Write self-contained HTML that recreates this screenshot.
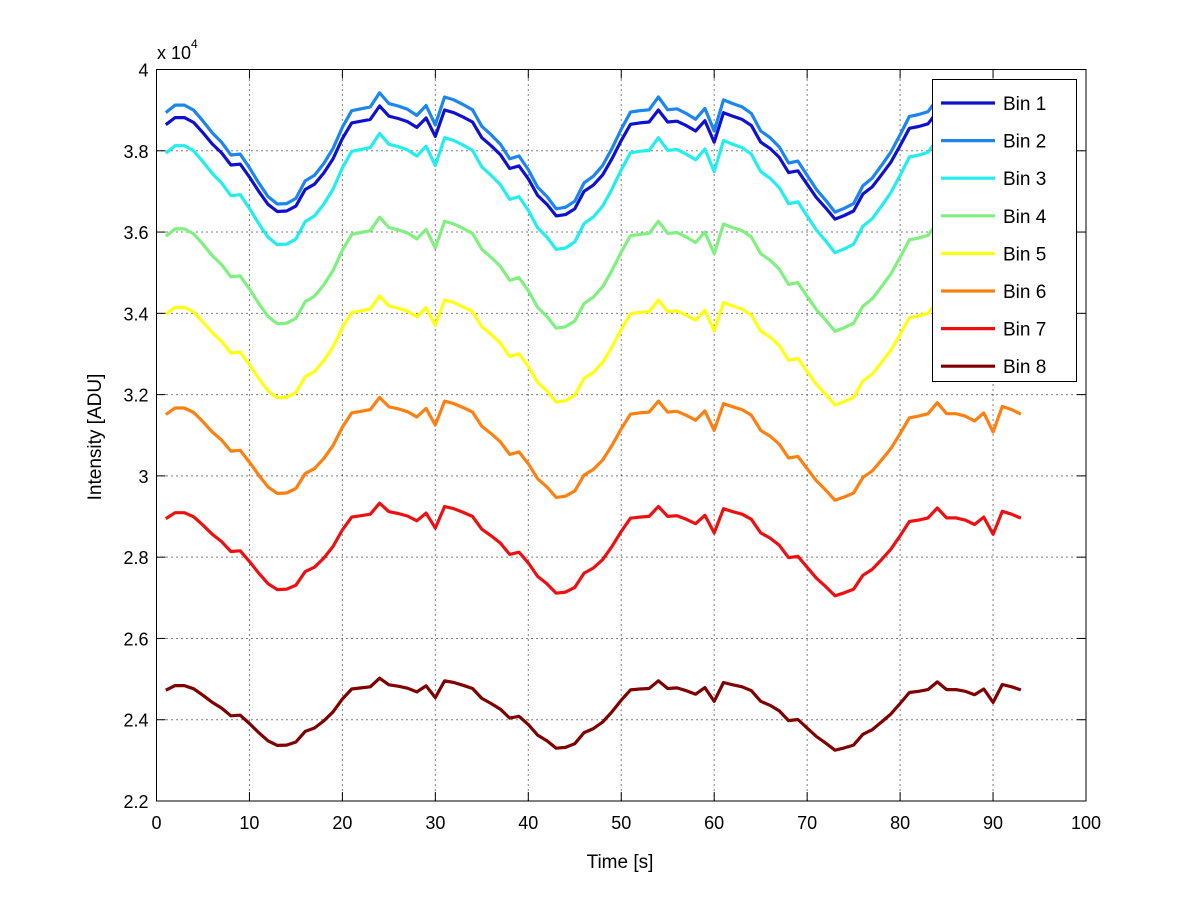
<!DOCTYPE html>
<html><head><meta charset="utf-8"><style>
body{margin:0;background:#fff;}
svg text{font-family:"Liberation Sans",sans-serif;fill:#000;}
</style></head><body>
<svg id="chart" width="1200" height="901" xmlns="http://www.w3.org/2000/svg">
<rect width="1200" height="901" fill="#fff"/>
<g id="grid"></g>
<g id="series"></g>
<g id="axes"></g>
<g id="legend"></g>
<text x="157" y="59" font-size="18">x 10<tspan dy="-11" font-size="12">4</tspan></text>
<text x="620" y="868" font-size="19" text-anchor="middle">Time [s]</text>
<text x="0" y="0" font-size="19" text-anchor="middle" transform="translate(101,437) rotate(-90)">Intensity [ADU]</text>
</svg>
<script>
const xTicks = [0,10,20,30,40,50,60,70,80,90,100];
const yTicks = [2.2,2.4,2.6,2.8,3,3.2,3.4,3.6,3.8,4];
const yTickLabels = ["2.2","2.4","2.6","2.8","3","3.2","3.4","3.6","3.8","4"];
const seriesNames = ["Bin 1","Bin 2","Bin 3","Bin 4","Bin 5","Bin 6","Bin 7","Bin 8"];
const seriesColors = ["#1010d0","#1a86ee","#22eeee","#80f080","#ffff10","#ff8010","#ee1010","#800000"];
// reference profile (Bin 6), x 1e4 ADU, t = 1..93 s
const baseProfile = [3.151,3.167,3.167,3.156,3.133,3.108,3.088,3.061,3.063,3.034,3.002,2.973,2.957,2.958,2.969,3.006,3.018,3.043,3.075,3.120,3.155,3.159,3.163,3.193,3.170,3.165,3.158,3.145,3.166,3.125,3.184,3.178,3.168,3.157,3.122,3.104,3.084,3.053,3.059,3.030,2.993,2.973,2.947,2.950,2.963,3.002,3.016,3.039,3.075,3.116,3.152,3.155,3.157,3.184,3.157,3.159,3.149,3.137,3.160,3.112,3.178,3.170,3.163,3.149,3.112,3.098,3.078,3.044,3.048,3.018,2.988,2.965,2.940,2.948,2.958,2.996,3.012,3.039,3.067,3.104,3.143,3.147,3.153,3.180,3.153,3.153,3.147,3.135,3.155,3.108,3.171,3.163,3.152];
const binMeans = [3.775,3.800,3.700,3.500,3.312,3.070,2.822,2.416];
const binScales = [1.10,1.16,1.16,1.11,1.06,1.00,0.90,0.70];

const NS="http://www.w3.org/2000/svg";
const L=156.5,R=1086,T=69.5,B=801;
const xS=v=>L+(v-0)/(100-0)*(R-L);
const yS=v=>B-(v-2.2)/(4-2.2)*(B-T);
function mk(tag,attrs,parent){const e=document.createElementNS(NS,tag);for(const k in attrs)e.setAttribute(k,attrs[k]);parent.appendChild(e);return e;}
const grid=document.getElementById('grid'),axes=document.getElementById('axes'),ser=document.getElementById('series'),leg=document.getElementById('legend');
xTicks.forEach((t,i)=>{
  const x=xS(t);
  if(i>0&&i<xTicks.length-1){const g=mk('line',{x1:x,x2:x,y1:T,y2:B,stroke:'#000','stroke-width':1,'stroke-dasharray':'1,4'},grid);
  
  }
  mk('line',{x1:x,x2:x,y1:B,y2:B-9,stroke:'#000'},axes);
  mk('line',{x1:x,x2:x,y1:T,y2:T+9,stroke:'#000'},axes);
  const tx=mk('text',{x:x,y:B+28,'font-size':18,'text-anchor':'middle'},axes);
  tx.textContent=String(t);
  
  
});
yTicks.forEach((t,i)=>{
  const y=yS(t);
  if(i>0&&i<yTicks.length-1){const g=mk('line',{x1:L,x2:R,y1:y,y2:y,stroke:'#000','stroke-width':1,'stroke-dasharray':'1,4'},grid);
  
  }
  mk('line',{x1:L,x2:L+9,y1:y,y2:y,stroke:'#000'},axes);
  mk('line',{x1:R,x2:R-9,y1:y,y2:y,stroke:'#000'},axes);
  const tx=mk('text',{x:L-8,y:y+7,'font-size':18,'text-anchor':'end'},axes);
  tx.textContent=yTickLabels[i];
  
  
});
const box=mk('rect',{x:L,y:T,width:R-L,height:B-T,fill:'none',stroke:'#000','stroke-width':1},axes);


seriesNames.forEach((n,k)=>{
  const pts=baseProfile.map((b,i)=>{const v=binMeans[k]+binScales[k]*(b-3.07);return xS(i+1).toFixed(1)+','+yS(v).toFixed(1);}).join(' ');
  const p=mk('polyline',{points:pts,fill:'none',stroke:seriesColors[k],'stroke-width':3.2,'stroke-linejoin':'round'},ser);
  
  
});
const lb=mk('rect',{x:932.5,y:79.5,width:144,height:302,fill:'#fff',stroke:'#000'},leg);


seriesNames.forEach((n,k)=>{
  const y=103+k*37.6;
  const ln=mk('line',{x1:941,x2:995,y1:y,y2:y,stroke:seriesColors[k],'stroke-width':3.2},leg);
  
  
  const tx=mk('text',{x:1003,y:y+7,'font-size':19},leg);
  tx.textContent=n;
  
  
});
</script>
</body></html>
